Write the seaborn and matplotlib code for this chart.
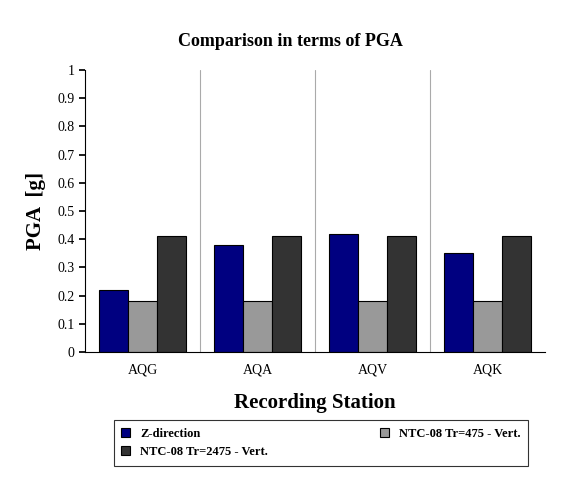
import numpy as np
import pandas as pd
import matplotlib
matplotlib.use("Agg")
import matplotlib.pyplot as plt
import seaborn as sns

stations = ["AQG", "AQA", "AQV", "AQK"]
z_dir = [0.22, 0.38, 0.42, 0.35]
ntc_475 = [0.18, 0.18, 0.18, 0.18]
ntc_2475 = [0.41, 0.41, 0.41, 0.41]
series = ["Z-direction", "NTC-08 Tr=475 - Vert.", "NTC-08 Tr=2475 - Vert."]

df = pd.DataFrame({
    "station": stations * 3,
    "pga": z_dir + ntc_475 + ntc_2475,
    "series": [series[0]] * 4 + [series[1]] * 4 + [series[2]] * 4,
})

sns.set_theme(style="white")
plt.rcParams["font.family"] = ["Liberation Serif", "DejaVu Serif"]
plt.rcParams["text.color"] = "black"
plt.rcParams["axes.labelcolor"] = "black"

fig = plt.figure(figsize=(5.81, 5.00), dpi=100)
ax = fig.add_axes([85 / 581, 1 - 352 / 500, 460 / 581, 282 / 500])

palette = ["#000080", "#999999", "#333333"]
sns.barplot(data=df, x="station", y="pga", hue="series", palette=palette,
            width=0.75, edgecolor="black", linewidth=0.8, saturation=1, ax=ax)

ax.set_ylim(0, 1)
ax.set_yticks(np.arange(0, 1.01, 0.1))
ax.set_yticklabels(["0"] + [f"{v:.1f}" for v in np.arange(0.1, 0.95, 0.1)] + ["1"])
ax.set_xlim(-0.5, 3.5)
for xv in [0.5, 1.5, 2.5]:
    ax.axvline(xv, color="#aaaaaa", linewidth=0.8, zorder=0)
ax.spines["top"].set_visible(False)
ax.spines["right"].set_visible(False)
for s in ["left", "bottom"]:
    ax.spines[s].set_color("black")
    ax.spines[s].set_linewidth(0.8)
ax.tick_params(axis="both", labelsize=10, colors="black", length=4, direction="out",
               left=True, bottom=True)
ax.set_xticks([-0.5, 0.5, 1.5, 2.5, 3.5], minor=True)
ax.tick_params(axis="x", which="major", length=0, pad=8)
ax.tick_params(axis="x", which="minor", length=4)

ax.set_xlabel("Recording Station", fontsize=15, fontweight="bold", labelpad=12)
ax.set_ylabel("PGA  [g]", fontsize=15, fontweight="bold", labelpad=8)
fig.text(0.5, 1 - 42 / 500, "Comparison in terms of PGA", ha="center", va="center",
         fontsize=13, fontweight="bold")

ax.legend_.remove()
handles, labels = ax.get_legend_handles_labels()
order = [0, 2, 1]
leg = fig.legend([handles[i] for i in order], [labels[i] for i in order],
                 loc="center", ncol=2,
                 bbox_to_anchor=(321 / 581, 1 - 443 / 500),
                 frameon=True, fancybox=False, edgecolor="black",
                 prop={"weight": "bold", "size": 9}, handlelength=0.7,
                 handleheight=0.7, columnspacing=9, borderpad=0.6)
leg.get_frame().set_linewidth(0.8)

fig.savefig("out.png", dpi=100)
